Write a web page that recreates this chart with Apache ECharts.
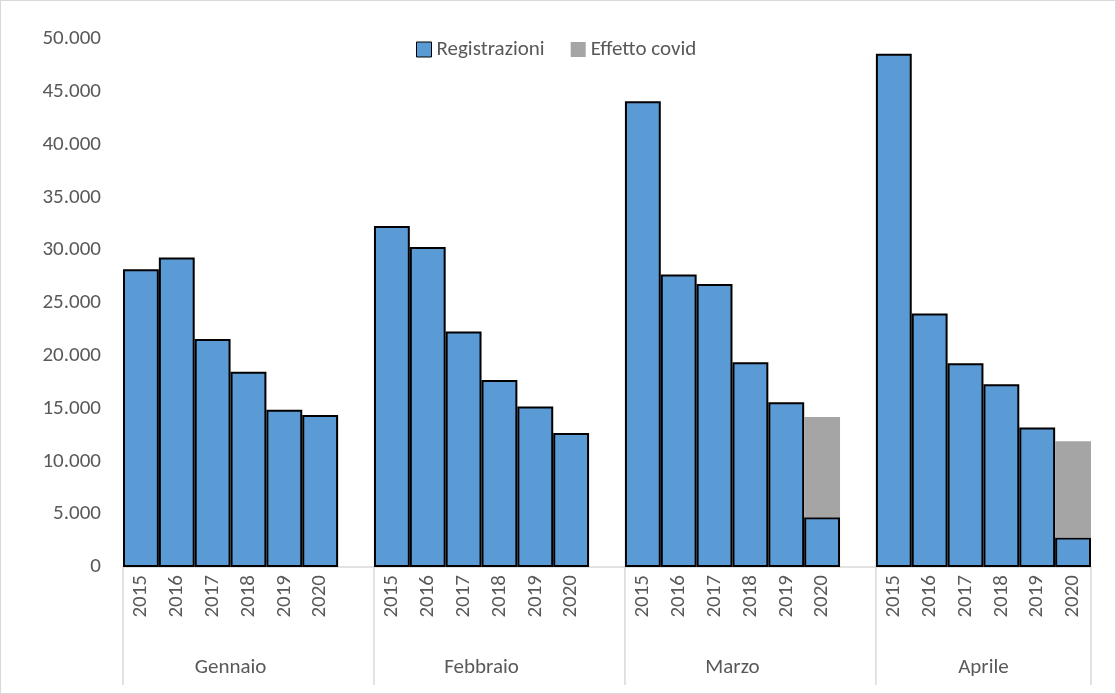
<!DOCTYPE html>
<html>
<head>
<meta charset="utf-8">
<script src="https://cdn.jsdelivr.net/npm/echarts@6/dist/echarts.min.js"></script>
<style>
  html, body { margin: 0; padding: 0; background: #fff; }
  #chart { width: 1116px; height: 694px; box-sizing: border-box; border: 1px solid #d9d9d9; }
</style>
</head>
<body>
<div id="chart"></div>
<script>
// dati
const months = ['Gennaio', 'Febbraio', 'Marzo', 'Aprile'];
const years = ['2015', '2016', '2017', '2018', '2019', '2020'];
const gennaio = [28200, 29300, 21600, 18500, 14900, 14400];
const febbraio = [32300, 30300, 22300, 17700, 15200, 12700];
const marzo = [44100, 27700, 26800, 19400, 15600, 4700];
const aprile = [48600, 24000, 19300, 17300, 13200, 2800];
// livello atteso senza covid (marzo e aprile 2020)
const covidLevel = { Marzo: 14200, Aprile: 11900 };

const FONT = 'Carlito, Calibri, "Open Sans", sans-serif';
const groups = [gennaio, febbraio, marzo, aprile];
const cats = [];
const regData = [];
const covidData = [];
groups.forEach((vals, g) => {
    vals.forEach((v, i) => {
        cats.push(years[i]);
        regData.push(v);
        const lvl = covidLevel[months[g]];
        covidData.push(i === 5 && lvl ? lvl - v : '-');
    });
    if (g < groups.length - 1) {
        cats.push('');
        regData.push('-');
        covidData.push('-');
    }
});

const chart = echarts.init(document.getElementById('chart'));
const option = {
    animation: false,
    textStyle: { fontFamily: FONT },
    legend: {
        top: 33, left: 410,
        itemWidth: 15, itemHeight: 15, itemGap: 26, itemTextGap: 6,
        textStyle: { fontSize: 21, color: '#595959', fontFamily: FONT },
        data: [
            { name: 'Registrazioni', icon: 'rect', itemStyle: { borderColor: '#000', borderWidth: 1 } },
            { name: 'Effetto covid', icon: 'rect' }
        ]
    },
    grid: { left: 122, right: 24, top: 38, bottom: 126 },
    xAxis: {
        type: 'category',
        data: cats,
        axisTick: { show: false },
        axisLine: { lineStyle: { color: '#d9d9d9', width: 1.5 } },
        axisLabel: { rotate: 90, fontSize: 21, color: '#595959', margin: 8, interval: 0, fontFamily: FONT }
    },
    yAxis: {
        type: 'value', min: 0, max: 50000, interval: 5000,
        splitLine: { show: false },
        axisLine: { show: false },
        axisLabel: {
            fontSize: 21, color: '#595959', margin: 22, fontFamily: FONT,
            formatter: v => v === 0 ? '0' : String(v).replace(/(\d)(?=(\d{3})+$)/g, '$1.')
        }
    },
    series: [
        {
            name: 'Registrazioni', type: 'bar', stack: 'a', data: regData,
            barCategoryGap: 0,
            itemStyle: { color: '#5b9bd5', borderColor: '#000', borderWidth: 2 }
        },
        {
            name: 'Effetto covid', type: 'bar', stack: 'a', data: covidData,
            barCategoryGap: 0,
            itemStyle: { color: '#a5a5a5' }
        }
    ]
};
chart.setOption(option);

// separatori e nomi dei mesi sotto l'asse
const half = (chart.convertToPixel({ xAxisIndex: 0 }, 1) - chart.convertToPixel({ xAxisIndex: 0 }, 0)) / 2;
const y0 = chart.convertToPixel({ yAxisIndex: 0 }, 0);
const elements = [];
const starts = [0, 7, 14, 21];
starts.forEach((s, g) => {
    const left = chart.convertToPixel({ xAxisIndex: 0 }, s) - half;
    const right = chart.convertToPixel({ xAxisIndex: 0 }, s + 5) + half;
    elements.push({ type: 'line', shape: { x1: left, y1: y0, x2: left, y2: y0 + 118 },
        style: { stroke: '#d9d9d9', lineWidth: 1.5 } });
    elements.push({ type: 'text', x: (left + right) / 2, y: y0 + 101,
        style: { text: months[g], fontSize: 21, fill: '#595959', align: 'center', verticalAlign: 'middle',
            fontFamily: FONT } });
    if (g === 3) {
        elements.push({ type: 'line', shape: { x1: right, y1: y0, x2: right, y2: y0 + 118 },
            style: { stroke: '#d9d9d9', lineWidth: 1.5 } });
    }
});
chart.setOption({ graphic: elements });
</script>
</body>
</html>
